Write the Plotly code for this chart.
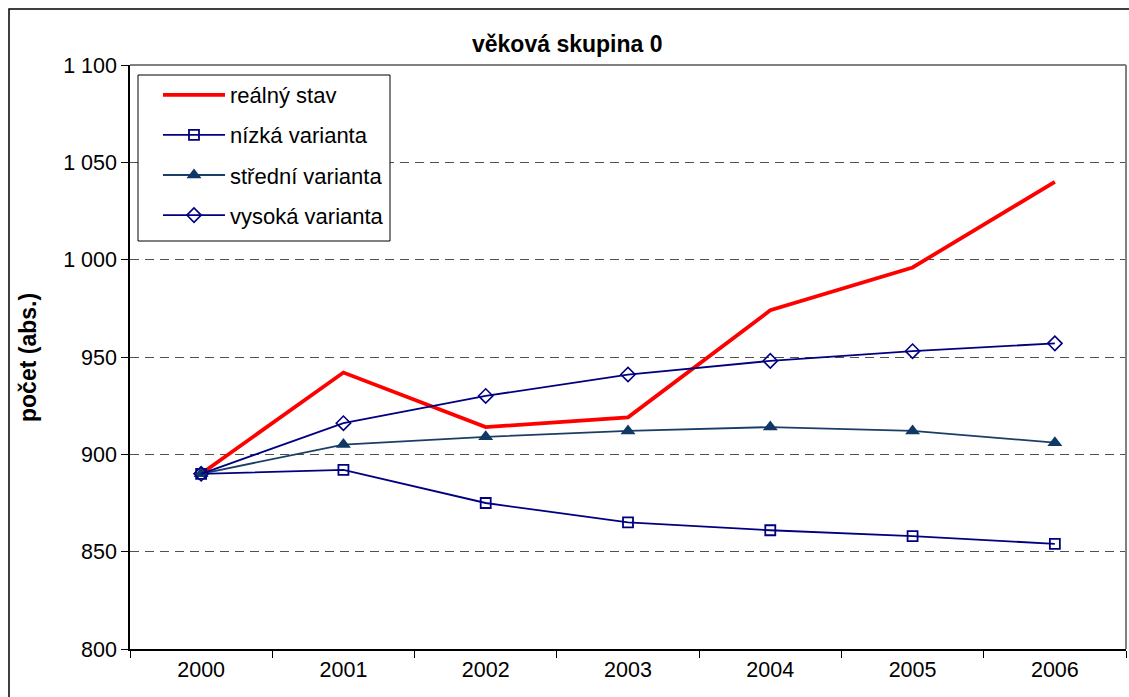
import plotly.graph_objects as go

years = ["2000", "2001", "2002", "2003", "2004", "2005", "2006"]
realny = [890, 942, 914, 919, 974, 996, 1040]
nizka = [890, 892, 875, 865, 861, 858, 854]
stredni = [890, 905, 909, 912, 914, 912, 906]
vysoka = [890, 916, 930, 941, 948, 953, 957]
ytick_vals = [800, 850, 900, 950, 1000, 1050, 1100]
ytick_text = ["800", "850", "900", "950", "1 000", "1 050", "1 100"]

W, H = 1129, 697
L, R, T, B = 130, 1126, 65, 649
pw, ph = R - L, B - T

def px(x):
    return (x - L) / pw

def py(y):
    return (B - y) / ph

FONT = "Liberation Sans, Arial, sans-serif"
FS = 21.5
LFS = 22
TFS = 23

fig = go.Figure()
fig.add_trace(go.Scatter(x=years, y=realny, name="reálný stav", mode="lines",
                         line=dict(color="#FF0000", width=3.8), legendgroup="a"))
fig.add_trace(go.Scatter(x=years, y=nizka, name="nízká varianta", mode="lines+markers",
                         line=dict(color="#000080", width=1.8),
                         marker=dict(symbol="square-open", size=10, color="#000080",
                                     line=dict(width=1.8, color="#000080")), legendgroup="b"))
fig.add_trace(go.Scatter(x=years, y=stredni, name="střední varianta", mode="lines+markers",
                         line=dict(color="#1A3F66", width=1.8),
                         marker=dict(symbol="triangle-up", size=13, color="#0F3866",
                                     line=dict(width=0)), legendgroup="c"))
fig.add_trace(go.Scatter(x=years, y=vysoka, name="vysoká varianta", mode="lines+markers",
                         line=dict(color="#000080", width=1.8),
                         marker=dict(symbol="diamond-open", size=11, color="#000080",
                                     line=dict(width=1.6, color="#000080")), legendgroup="d"))

fig.update_layout(
    width=W, height=H,
    margin=dict(l=L, r=W - R, t=T, b=H - B),
    paper_bgcolor="white", plot_bgcolor="white",
    font=dict(family=FONT, size=FS, color="black"),
    showlegend=True,
    legend=dict(x=px(158), y=py(74), xanchor="left", yanchor="top",
                borderwidth=0, bgcolor="rgba(0,0,0,0)",
                font=dict(size=LFS), itemwidth=62, tracegroupgap=8.5,
                traceorder="grouped"),
    xaxis=dict(type="category", range=[-0.5, 6.5], showgrid=False,
               showline=True, linecolor="black", linewidth=1.5,
               ticks="outside", tickson="boundaries", ticklen=7, tickcolor="black",
               tickfont=dict(size=FS), zeroline=False, fixedrange=True),
    yaxis=dict(range=[800, 1100], tickvals=ytick_vals, ticktext=ytick_text,
               showgrid=True, gridcolor="#505050", griddash="9px,6px", gridwidth=1,
               showline=True, linecolor="black", linewidth=1.5,
               ticks="outside", ticklen=7, tickcolor="black",
               tickfont=dict(size=FS), zeroline=False, fixedrange=True),
    annotations=[
        dict(text="<b>věková skupina 0</b>", x=px(567), y=py(44), xref="paper", yref="paper",
             showarrow=False, font=dict(size=TFS), xanchor="center", yanchor="middle"),
        dict(text="<b>počet (abs.)</b>", x=px(28), y=py(358), xref="paper", yref="paper",
             showarrow=False, font=dict(size=TFS), textangle=-90,
             xanchor="center", yanchor="middle"),
    ],
    shapes=[
        dict(type="line", xref="paper", yref="paper", x0=0, x1=1, y0=1, y1=1,
             line=dict(color="#808080", width=2), layer="above"),
        dict(type="line", xref="paper", yref="paper", x0=1, x1=1, y0=0, y1=1,
             line=dict(color="#808080", width=2), layer="above"),
        dict(type="rect", xref="paper", yref="paper", x0=px(138), x1=px(390),
             y0=py(241), y1=py(75), line=dict(color="black", width=1),
             fillcolor="white", layer="above"),
        dict(type="rect", xref="paper", yref="paper", x0=px(9), x1=px(1140),
             y0=py(710), y1=py(9), line=dict(color="black", width=1.5),
             fillcolor="rgba(0,0,0,0)", layer="above"),
    ],
)

fig.write_html("out.html", config={"displayModeBar": False},
               post_script="document.body.style.margin='0';document.body.style.overflow='hidden';")
